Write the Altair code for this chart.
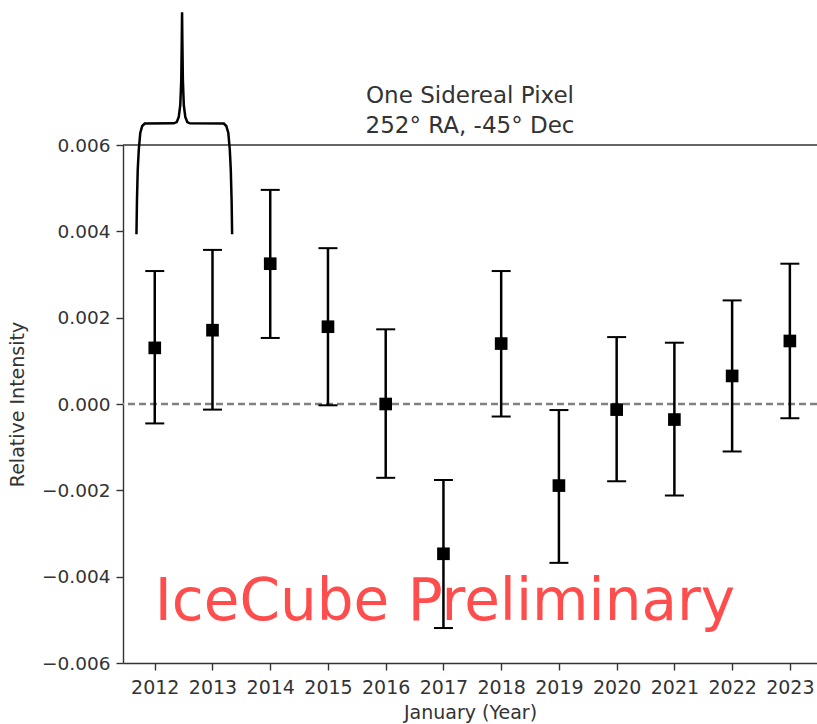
import altair as alt
import pandas as pd

# Yearly relative intensity of one sidereal pixel with its 1-sigma range
years = list(range(2012, 2024))
intensity = [0.00130, 0.00171, 0.00325, 0.00179, 0.00000, -0.00347,
             0.00140, -0.00189, -0.00013, -0.00036, 0.00065, 0.00146]
err_low = [-0.00045, -0.00013, 0.00153, -0.00003, -0.00171, -0.00519,
           -0.00029, -0.00368, -0.00179, -0.00212, -0.00110, -0.00033]
err_high = [0.00308, 0.00357, 0.00496, 0.00361, 0.00173, -0.00176,
            0.00308, -0.00014, 0.00155, 0.00142, 0.00240, 0.00325]

y_ticks = [-0.006, -0.004, -0.002, 0.0, 0.002, 0.004, 0.006]

title_lines = ["One Sidereal Pixel", "252° RA, -45° Dec"]
x_title = "January (Year)"
y_title = "Relative Intensity"
watermark = "IceCube Preliminary"

# Curly brace above the first two years (data units)
bracket_x = [2011.683, 2011.692, 2011.705, 2011.723, 2011.749, 2011.783, 2011.827,
             2012.329, 2012.381, 2012.416, 2012.442, 2012.459, 2012.468, 2012.473,
             2012.478, 2012.487, 2012.503, 2012.529, 2012.563, 2012.607,
             2013.196, 2013.239, 2013.274, 2013.300, 2013.317, 2013.331, 2013.340]
bracket_y = [0.003931, 0.004726, 0.005420, 0.005884, 0.006278, 0.006440, 0.006498,
             0.006502, 0.006532, 0.006648, 0.006926, 0.007505, 0.008432, 0.009073,
             0.008432, 0.007505, 0.006926, 0.006648, 0.006532, 0.006502,
             0.006498, 0.006440, 0.006278, 0.005884, 0.005420, 0.004726, 0.003931]

PLOT_W, PLOT_H = 694, 518
FONT = "DejaVu Sans"
INK = "#333333"

df = pd.DataFrame({"year": years, "value": intensity, "low": err_low, "high": err_high})
brace = pd.DataFrame({"bx": bracket_x, "by": bracket_y, "step": list(range(len(bracket_x)))})

x_scale = alt.Scale(domain=[2011.45, 2023.47], nice=False, zero=False)
y_scale = alt.Scale(domain=[-0.006, 0.006], nice=False, zero=False)

x_axis = alt.Axis(values=years, format="d", title=x_title, labelFontSize=19,
                  labelPadding=8, titlePadding=6, titleFontSize=19)
y_axis = alt.Axis(values=y_ticks, format=".3f", title=y_title, labelFontSize=18.5,
                  labelPadding=6, titlePadding=14, titleFontSize=19)


def xq(field):
    return alt.X(field, scale=x_scale, axis=x_axis)


def yq(field):
    return alt.Y(field, scale=y_scale, axis=y_axis)


# Dashed reference at zero
zero_line = alt.Chart(pd.DataFrame({"level": [0.0]})).mark_rule(
    color="#808080", strokeDash=[7, 4], strokeWidth=2.5
).encode(y=yq("level:Q"))

# Top frame line
top_line = alt.Chart(pd.DataFrame({"level": [0.006]})).mark_rule(
    color=INK, strokeWidth=1.4
).encode(y=yq("level:Q"))

text_df = pd.DataFrame({"tx": [2012], "ty": [-0.005], "label": [watermark]})
stamp = alt.Chart(text_df).mark_text(
    align="left", baseline="alphabetic", fontSize=58, font=FONT, color="#ff4d4d"
).encode(x=xq("tx:Q"), y=yq("ty:Q"), text="label:N")

base = alt.Chart(df)
bars = base.mark_rule(color="black", strokeWidth=2.5).encode(
    x=xq("year:Q"), y=yq("low:Q"), y2="high:Q"
)
caps_low = base.mark_tick(orient="horizontal", size=19, thickness=2, color="black", opacity=1).encode(
    x=xq("year:Q"), y=yq("low:Q")
)
caps_high = base.mark_tick(orient="horizontal", size=19, thickness=2, color="black", opacity=1).encode(
    x=xq("year:Q"), y=yq("high:Q")
)
points = base.mark_square(size=160, color="black", opacity=1, filled=True).encode(
    x=xq("year:Q"), y=yq("value:Q")
)

bracket = alt.Chart(brace).mark_line(color="black", strokeWidth=2.5, clip=False).encode(
    x=xq("bx:Q"), y=yq("by:Q"), order="step:Q"
)

title_df = pd.DataFrame({"line": [0]})
title_top = alt.Chart(title_df).mark_text(
    align="center", baseline="alphabetic", fontSize=23, font=FONT, color=INK
).encode(x=alt.value(PLOT_W / 2), y=alt.value(-42), text=alt.value(title_lines[0]))
title_bottom = alt.Chart(title_df).mark_text(
    align="center", baseline="alphabetic", fontSize=23, font=FONT, color=INK
).encode(x=alt.value(PLOT_W / 2), y=alt.value(-12.5), text=alt.value(title_lines[1]))

chart = alt.layer(
    zero_line, top_line, stamp, bars, caps_low, caps_high, points, bracket,
    title_top, title_bottom,
).properties(
    width=PLOT_W, height=PLOT_H,
    autosize=alt.AutoSizeParams(type="none"),
    padding={"left": 123, "top": 145, "right": 0, "bottom": 61},
    background="white",
).configure_view(strokeWidth=0).configure_axis(
    grid=False, domainColor=INK, domainWidth=1.4, tickColor=INK, tickWidth=1.4,
    tickSize=7, labelColor=INK, labelFont=FONT, titleFont=FONT, titleColor=INK,
    titleFontWeight="normal",
)

chart.save("out.html", embed_options={"renderer": "svg", "actions": False})
